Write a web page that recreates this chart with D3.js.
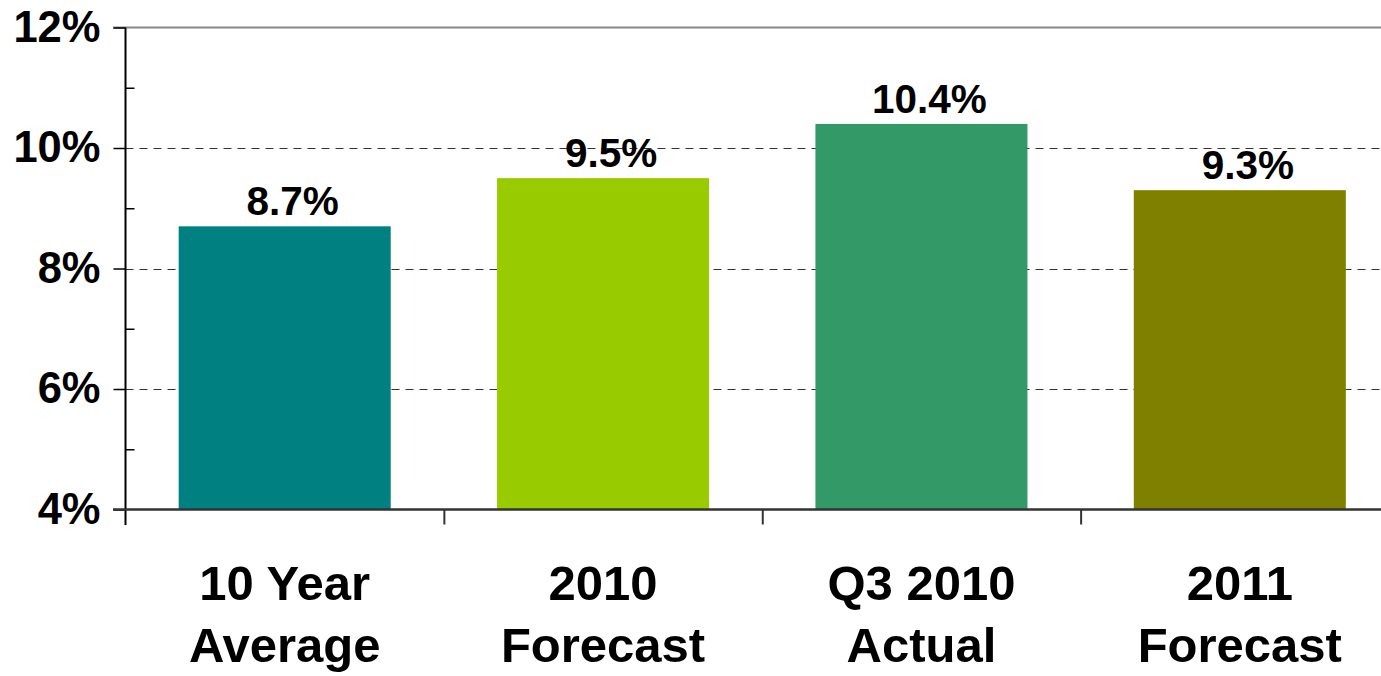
<!DOCTYPE html>
<html lang="en">
<head>
<meta charset="UTF-8">
<script src="https://d3js.org/d3.v7.min.js"></script>
<style>
  body { margin: 0; background: #fff; }
  svg { display: block; font-family: "Liberation Sans", Arial, sans-serif; font-weight: bold; }
</style>
</head>
<body>
<svg id="chart" width="1381" height="676"></svg>
<script>
// chart data
const categories = [["10 Year", "Average"], ["2010", "Forecast"], ["Q3 2010", "Actual"], ["2011", "Forecast"]];
const values = [8.7, 9.5, 10.4, 9.3];
const barColors = ["#008080", "#99CC00", "#339966", "#808000"];
const majorTicks = [4, 6, 8, 10, 12];
const minorTicks = [5, 7, 9, 11];

const svg = d3.select("#chart");
const mLeft = 125.5, mTop = 27.5, mBottom = 509.5, mRight = 1399;

const y = d3.scaleLinear().domain([4, 12]).range([mBottom, mTop]);
const x = d3.scaleBand()
  .domain(d3.range(categories.length))
  .range([mLeft, mRight])
  .paddingInner(0.334)
  .paddingOuter(0.167);
const xEdge = d3.scaleLinear().domain([0, categories.length]).range([mLeft, mRight]);

// dashed gridlines
svg.append("g")
  .selectAll("line")
  .data([6, 8, 10])
  .join("line")
  .attr("x1", mLeft).attr("x2", 1381)
  .attr("y1", d => Math.round(y(d)) + 0.5).attr("y2", d => Math.round(y(d)) + 0.5)
  .attr("stroke", "#333")
  .attr("stroke-width", 1)
  .attr("stroke-dasharray", "8,6");

// top border line
svg.append("line")
  .attr("x1", 113).attr("x2", 1381)
  .attr("y1", mTop).attr("y2", mTop)
  .attr("stroke", "#888").attr("stroke-width", 2);

// bars
svg.append("g")
  .selectAll("rect")
  .data(values)
  .join("rect")
  .attr("x", (d, i) => x(i))
  .attr("width", x.bandwidth())
  .attr("y", d => y(d))
  .attr("height", d => y(4) - y(d))
  .attr("fill", (d, i) => barColors[i]);

// value labels (sit slightly right of bar centre, as in the original)
svg.append("g")
  .selectAll("text")
  .data(values)
  .join("text")
  .attr("x", (d, i) => x(i) + x.bandwidth() / 2 + 8)
  .attr("y", d => y(d) - 11)
  .attr("text-anchor", "middle")
  .style("font-size", "40.5px")
  .attr("fill", "#000")
  .text(d => d.toFixed(1) + "%");

// y axis, major ticks to the left
const yAxis = svg.append("g")
  .attr("transform", `translate(${mLeft},0)`)
  .call(d3.axisLeft(y).tickValues(majorTicks).tickSize(12).tickPadding(13).tickFormat(d => d + "%"));
yAxis.select(".domain").remove();
yAxis.selectAll("line").attr("stroke", "#000").attr("stroke-width", 1.5);
yAxis.selectAll("text").style("font-size", "43.5px").attr("fill", "#000");
yAxis.attr("font-family", null).attr("font-size", null);

// minor ticks to the right
const yMinor = svg.append("g")
  .attr("transform", `translate(${mLeft},0)`)
  .call(d3.axisRight(y).tickValues(minorTicks).tickSize(9).tickFormat(""));
yMinor.select(".domain").remove();
yMinor.selectAll("line").attr("stroke", "#000").attr("stroke-width", 1.5);

// vertical axis line
svg.append("line")
  .attr("x1", mLeft).attr("x2", mLeft)
  .attr("y1", mTop).attr("y2", 525)
  .attr("stroke", "#000").attr("stroke-width", 2);

// bottom axis with category boundary ticks
const xAxis = svg.append("g")
  .attr("transform", `translate(0,${mBottom})`)
  .call(d3.axisBottom(xEdge).tickValues(d3.range(1, categories.length)).tickSize(15).tickFormat(""));
xAxis.select(".domain").remove();
xAxis.selectAll("line").attr("stroke", "#333").attr("stroke-width", 2);

svg.append("line")
  .attr("x1", 113).attr("x2", 1381)
  .attr("y1", mBottom).attr("y2", mBottom)
  .attr("stroke", "#333").attr("stroke-width", 2.5);

// category labels
const catText = svg.append("g")
  .selectAll("text")
  .data(categories)
  .join("text")
  .attr("text-anchor", "middle")
  .style("font-size", "49px")
  .attr("fill", "#000");
catText.selectAll("tspan")
  .data((d, i) => d.map(t => ({ t, i })))
  .join("tspan")
  .attr("x", d => x(d.i) + x.bandwidth() / 2)
  .attr("y", (d, j) => 600 + j * 62)
  .text(d => d.t);
</script>
</body>
</html>
